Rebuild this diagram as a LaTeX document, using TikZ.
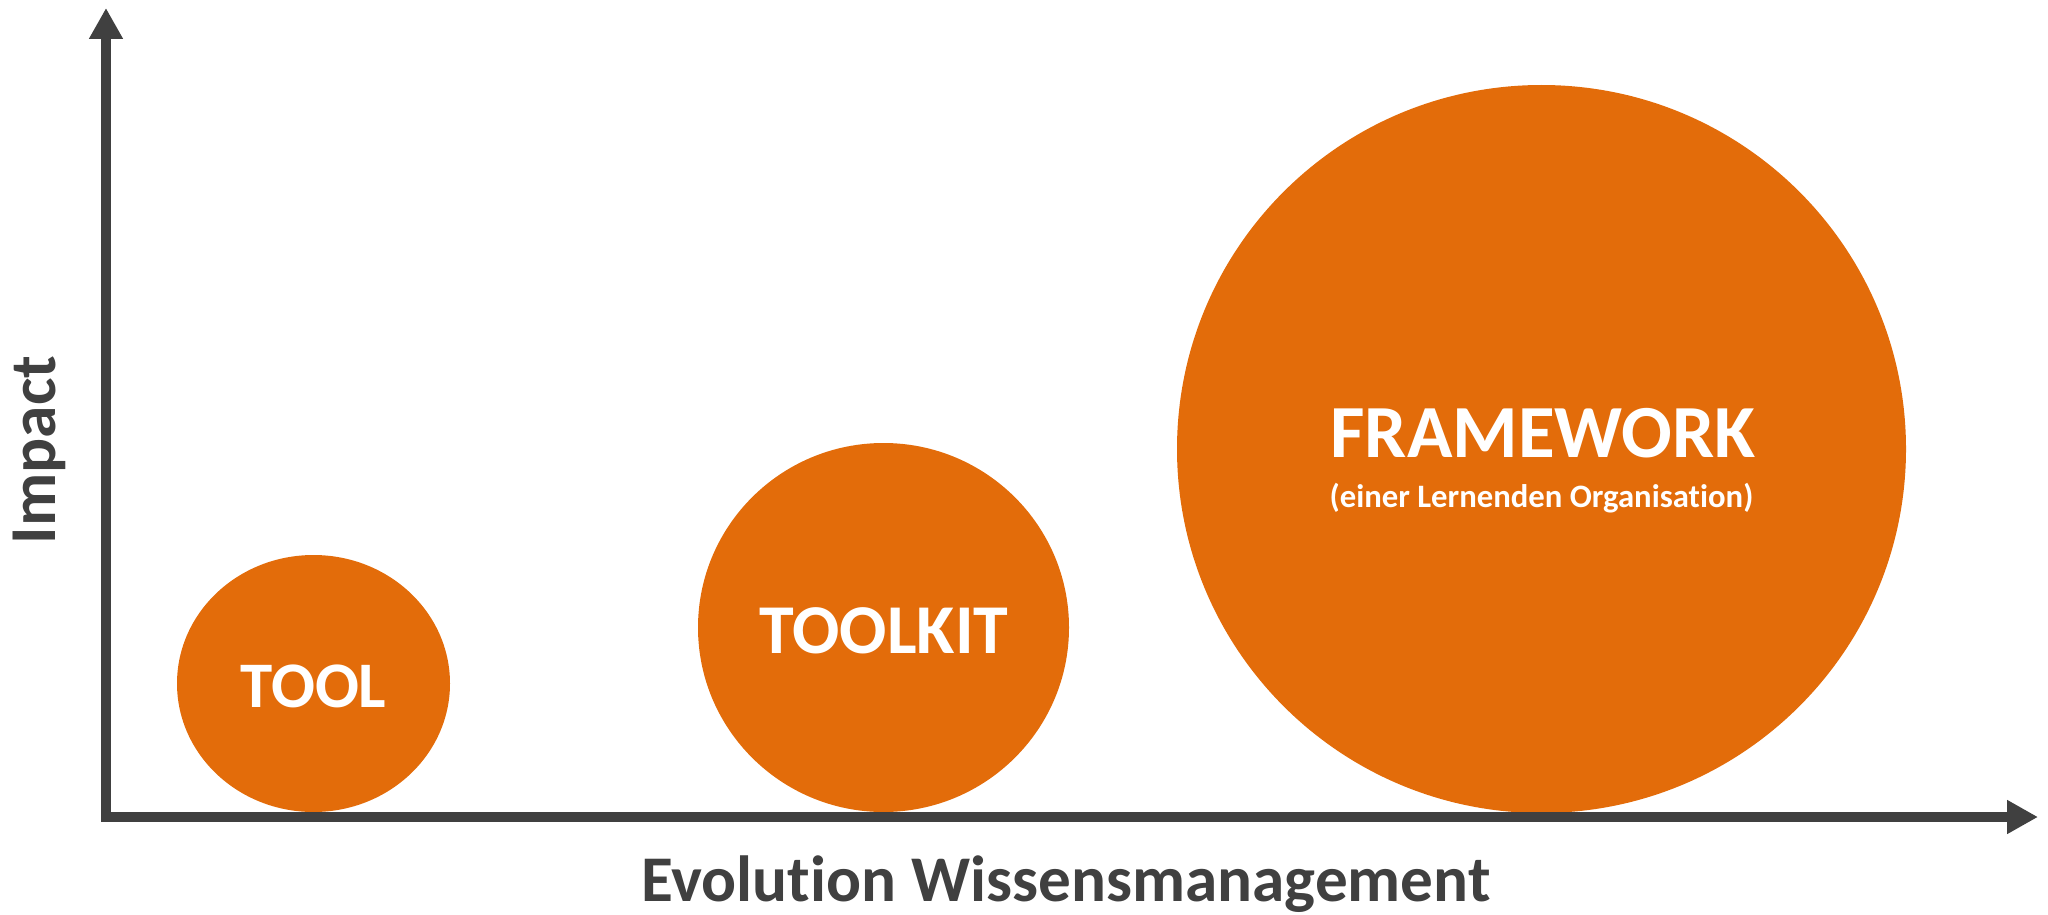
\documentclass[tikz,border=0pt]{standalone}
\usepackage{fontspec}
\setmainfont{Carlito}[RawFeature=-liga]
\usetikzlibrary{arrows.meta,shapes.geometric}
\definecolor{orng}{HTML}{E36C0A}
\definecolor{axisgray}{HTML}{404040}
\tikzset{
  blob/.style={shape=ellipse, fill=orng, draw=none, inner sep=0pt},
  lbl/.style={text=white, font=\bfseries, inner sep=0pt, anchor=base},
  axislbl/.style={text=axisgray, font=\bfseries, inner sep=0pt, anchor=base},
  axisline/.style={draw=axisgray, line width=10.5pt, line join=miter,
    {Triangle[length=31pt,width=32pt]}-{Triangle[length=31pt,width=32pt]}}
}
\begin{document}
\begin{tikzpicture}[x=1pt,y=-1pt]
\useasboundingbox (0,0) rectangle (2048,915);
% circles
\node[blob, minimum width=273pt, minimum height=257pt] (tool) at (313.5,683.5) {};
\node[blob, minimum width=371pt, minimum height=369pt] (toolkit) at (883.5,627.5) {};
\node[blob, minimum width=729pt, minimum height=728pt] (framework) at (1541.5,449) {};
% labels
\node[lbl, font=\bfseries\fontsize{65}{70}\selectfont] (tooltxt) at (313.5,707) {TOOL};
\node[lbl, font=\bfseries\fontsize{70}{75}\selectfont] (toolkittxt) at (884,653) {TOOLKIT};
\node[lbl, font=\bfseries\fontsize{75}{80}\selectfont] (fwtxt) at (1543,457) {FRAMEWORK};
\node[lbl, font=\bfseries\fontsize{32.7}{36}\selectfont] (fwsub) at (1541.5,507) {(einer Lernenden Organisation)};
% axes
\coordinate (ytip) at (106,8);
\coordinate (origin) at (106,817);
\coordinate (xtip) at (2038,817);
\draw[axisline] (ytip) -- (origin) -- (xtip);
\node[axislbl, font=\bfseries\fontsize{65.2}{69}\selectfont] (xlabel) at (1066,901) {Evolution Wissensmanagement};
\node[axislbl, font=\bfseries\fontsize{65.5}{70}\selectfont, rotate=90] (ylabel) at (55,450) {Impact};
\end{tikzpicture}
\end{document}
